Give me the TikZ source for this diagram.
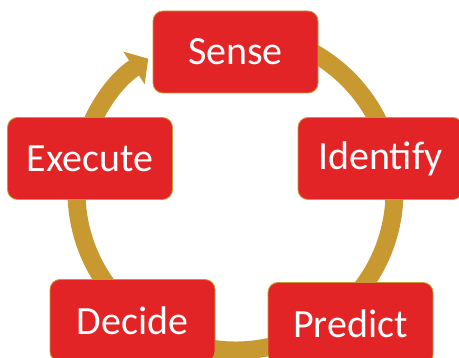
\documentclass[tikz,border=0pt]{standalone}
\usepackage{fontspec}
\setmainfont{Carlito}
\usetikzlibrary{arrows.meta}
\definecolor{boxred}{RGB}{226,36,39}
\definecolor{ringgold}{RGB}{200,153,48}
\begin{document}
\begin{tikzpicture}[x=1pt,y=1pt,
  stagebox/.style={draw=ringgold, line width=0.8pt, fill=boxred, rounded corners=10pt,
    minimum width=165pt, minimum height=82pt, text=white,
    font=\fontsize{40}{48}\selectfont, inner sep=0pt},
  ring/.style={draw=ringgold, line width=18pt, -{Triangle[width=38pt,length=17pt]}}]
\useasboundingbox (0,0) rectangle (459,358);
\coordinate (c) at (235.5,166.5);
\draw[ring] (c) ++(80:159) arc[start angle=80, end angle=-236.7, radius=159];
\node[stagebox] (sense) at (235.5,306) {Sense};
\node[stagebox] (execute) at (90,199.5) {Execute};
\node[stagebox] (identify) at (380.5,199.5) {Identify};
\node[stagebox] (decide) at (132.5,37.5) {Decide};
\node[stagebox] (predict) at (350.5,34.5) {Predict};
\end{tikzpicture}
\end{document}
